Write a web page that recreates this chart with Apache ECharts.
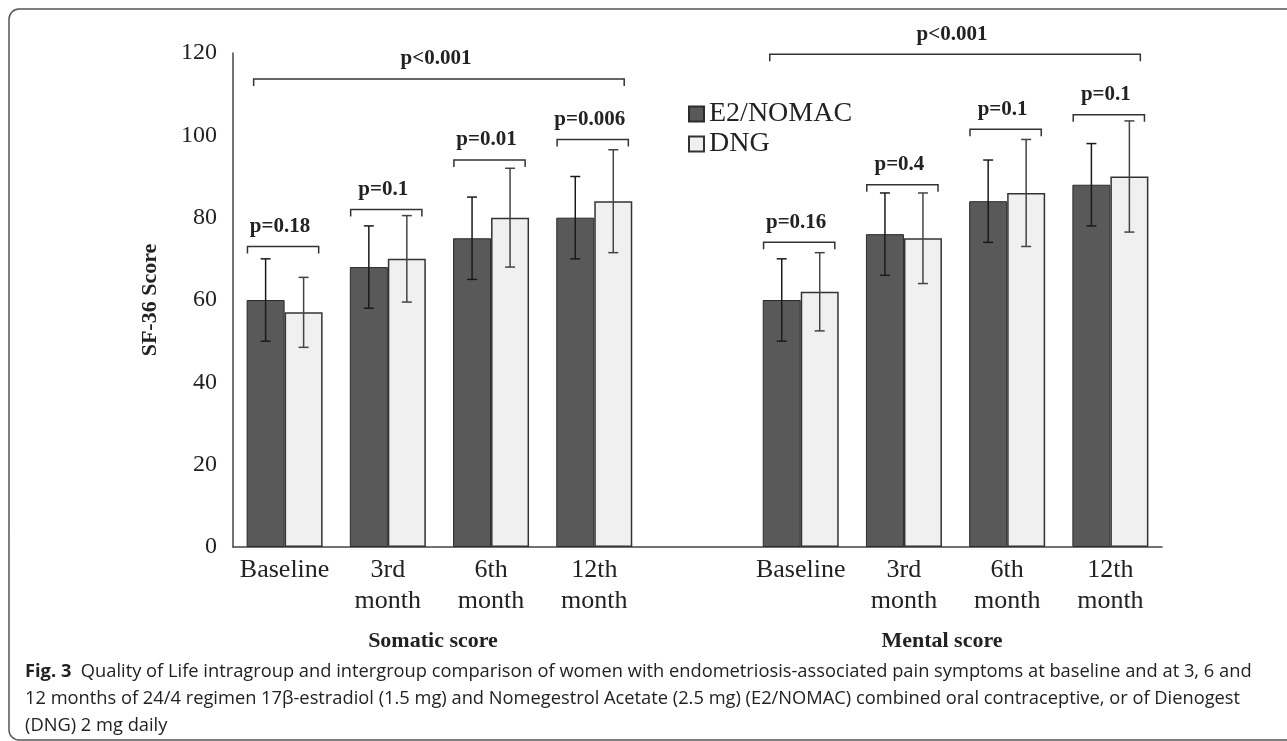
<!DOCTYPE html>
<html>
<head>
<meta charset="utf-8">
<script src="https://cdn.jsdelivr.net/npm/echarts@6/dist/echarts.min.js"></script>
<style>
    html, body { margin: 0; padding: 0; background: #fff; }
    #qol_show { width: 1287px; height: 741px; }
</style>
</head>
<body>
<div id="qol_show"></div>
<script>
// 分类 (中间留一个空位把两组分开)
var categories = ['Baseline', '3rd\nmonth', '6th\nmonth', '12th\nmonth', '', 'Baseline', '3rd\nmonth', '6th\nmonth', '12th\nmonth'];
var e2Mean = [60, 68, 75, 80, '-', 60, 76, 84, 88];
var e2Sd = [10, 10, 10, 10, '-', 10, 10, 10, 10];
var dngMean = [57, 70, 80, 84, '-', 62, 75, 86, 90];
var dngSd = [8.5, 10.5, 12, 12.5, '-', 9.5, 11, 13, 13.5];

// 组间比较 p 值
var pairCats = [0, 1, 2, 3, 5, 6, 7, 8];
var pairLevel = [73, 82, 94, 99, 74, 88, 101.5, 105];
var pairP = ['p=0.18', 'p=0.1', 'p=0.01', 'p=0.006', 'p=0.16', 'p=0.4', 'p=0.1', 'p=0.1'];

// 组内比较 p 值
var overallFrom = [0, 5];
var overallTo = [3, 8];
var overallLevel = [113.7, 119.7];
var overallP = ['p<0.001', 'p<0.001'];

var yTicks = [0, 20, 40, 60, 80, 100, 120];
var groupNames = ['Somatic score', 'Mental score'];

var serif = '"Liberation Serif", "Times New Roman", serif';
var capFont = '"Open Sans", sans-serif';
var BAR_W = 38;

function errData(mean, sd) {
    var out = [];
    for (var i = 0; i < mean.length; i++) {
        if (mean[i] === '-') continue;
        out.push([i, mean[i] - sd[i], mean[i] + sd[i]]);
    }
    return out;
}

function errRender(offset, color) {
    return function (params, api) {
        var top = api.coord([api.value(0), api.value(2)]);
        var bot = api.coord([api.value(0), api.value(1)]);
        var x = top[0] + offset;
        var st = { stroke: color, lineWidth: 1.5 };
        return {
            type: 'group',
            children: [
                { type: 'line', shape: { x1: x, y1: top[1], x2: x, y2: bot[1] }, style: st },
                { type: 'line', shape: { x1: x - 5, y1: top[1], x2: x + 5, y2: top[1] }, style: st },
                { type: 'line', shape: { x1: x - 5, y1: bot[1], x2: x + 5, y2: bot[1] }, style: st }
            ]
        };
    };
}

function bracket(x1, x2, y, label) {
    var st = { stroke: '#333', lineWidth: 1.5, fill: null };
    return {
        type: 'group',
        children: [
            { type: 'polyline', shape: { points: [[x1, y + 7], [x1, y], [x2, y], [x2, y + 7]] }, style: st },
            {
                type: 'text',
                style: {
                    text: label, x: (x1 + x2) / 2 - 3, y: y - 20,
                    align: 'center', verticalAlign: 'middle',
                    font: 'bold 21px ' + serif, fill: '#222'
                }
            }
        ]
    };
}

var pairData = pairCats.map(function (c, i) { return [c, pairLevel[i]]; });
var overallData = overallFrom.map(function (c, i) { return [c, overallTo[i], overallLevel[i]]; });

var oChart = echarts.init(document.getElementById('qol_show'));

var chartopt = {
    backgroundColor: '#fff',
    animation: false,
    textStyle: { fontFamily: serif },
    grid: { left: 233, right: 125, top: 53, bottom: 194 },
    legend: {
        data: ['E2/NOMAC', 'DNG'],
        orient: 'vertical',
        left: 683,
        top: 95,
        icon: 'rect',
        itemWidth: 15,
        itemHeight: 15,
        itemGap: 2,
        textStyle: { fontSize: 28, lineHeight: 28, color: '#222', fontFamily: serif }
    },
    xAxis: {
        type: 'category',
        data: categories,
        axisLine: { lineStyle: { color: '#444', width: 1.5 } },
        axisTick: { show: false },
        axisLabel: { fontSize: 26, lineHeight: 31, color: '#222', margin: 8, interval: 0, fontFamily: serif }
    },
    yAxis: {
        type: 'value',
        min: yTicks[0],
        max: yTicks[yTicks.length - 1],
        interval: 20,
        name: 'SF-36 Score',
        nameLocation: 'middle',
        nameGap: 72,
        nameTextStyle: { fontSize: 22, fontWeight: 'bold', color: '#222', fontFamily: serif },
        axisLine: { show: true, lineStyle: { color: '#444', width: 1.5 } },
        axisTick: { show: false },
        splitLine: { show: false },
        axisLabel: { fontSize: 24, color: '#222', margin: 16, fontFamily: serif }
    },
    series: [
        {
            name: 'E2/NOMAC',
            type: 'bar',
            barWidth: BAR_W,
            barGap: '0%',
            itemStyle: { color: '#595959', borderColor: '#2b2b2b', borderWidth: 1 },
            data: e2Mean
        },
        {
            name: 'DNG',
            type: 'bar',
            barWidth: BAR_W,
            barGap: '0%',
            itemStyle: { color: '#f0f0f0', borderColor: '#333', borderWidth: 1.5 },
            data: dngMean
        },
        {
            name: 'e2err',
            type: 'custom',
            renderItem: errRender(-BAR_W / 2, '#1a1a1a'),
            encode: { x: 0, y: [1, 2] },
            data: errData(e2Mean, e2Sd),
            z: 5
        },
        {
            name: 'dngerr',
            type: 'custom',
            renderItem: errRender(BAR_W / 2, '#444'),
            encode: { x: 0, y: [1, 2] },
            data: errData(dngMean, dngSd),
            z: 5
        },
        {
            name: 'pairp',
            type: 'custom',
            clip: false,
            renderItem: function (params, api) {
                var p = api.coord([api.value(0), api.value(1)]);
                var band = api.size([1, 0])[0];
                return bracket(p[0] - band * 0.36, p[0] + band * 0.33, p[1], pairP[params.dataIndex]);
            },
            encode: { x: 0, y: 1 },
            data: pairData,
            z: 6
        },
        {
            name: 'overallp',
            type: 'custom',
            clip: false,
            renderItem: function (params, api) {
                var a = api.coord([api.value(0), api.value(2)]);
                var b = api.coord([api.value(1), api.value(2)]);
                var band = api.size([1, 0])[0];
                return bracket(a[0] - band * 0.3, b[0] + band * 0.29, a[1], overallP[params.dataIndex]);
            },
            encode: { x: [0, 1], y: 2 },
            data: overallData,
            z: 6
        }
    ],
    graphic: [
        {
            type: 'rect',
            shape: { x: 9, y: 9, width: 1300, height: 731, r: [10, 0, 0, 10] },
            style: { fill: null, stroke: '#555', lineWidth: 1.5 },
            silent: true
        },
        {
            type: 'text', x: 433, y: 641,
            style: { text: groupNames[0], align: 'center', verticalAlign: 'middle', font: 'bold 22px ' + serif, fill: '#222' }
        },
        {
            type: 'text', x: 942, y: 641,
            style: { text: groupNames[1], align: 'center', verticalAlign: 'middle', font: 'bold 22px ' + serif, fill: '#222' }
        },
        {
            type: 'text', x: 25, y: 672,
            style: {
                text: '{b|Fig. 3}  Quality of Life intragroup and intergroup comparison of women with endometriosis-associated pain symptoms at baseline and at 3, 6 and',
                verticalAlign: 'middle',
                fontFamily: capFont, fontSize: 18.3, fill: '#222',
                rich: { b: { fontWeight: 'bold', fontFamily: capFont, fontSize: 18.3, fill: '#222' } }
            }
        },
        {
            type: 'text', x: 25, y: 699,
            style: {
                text: '12 months of 24/4 regimen 17β-estradiol (1.5 mg) and Nomegestrol Acetate (2.5 mg) (E2/NOMAC) combined oral contraceptive, or of Dienogest',
                verticalAlign: 'middle', font: '18.3px ' + capFont, fill: '#222'
            }
        },
        {
            type: 'text', x: 25, y: 726,
            style: { text: '(DNG) 2 mg daily', verticalAlign: 'middle', font: '18.3px ' + capFont, fill: '#222' }
        }
    ]
};

oChart.setOption(chartopt);
</script>
</body>
</html>
